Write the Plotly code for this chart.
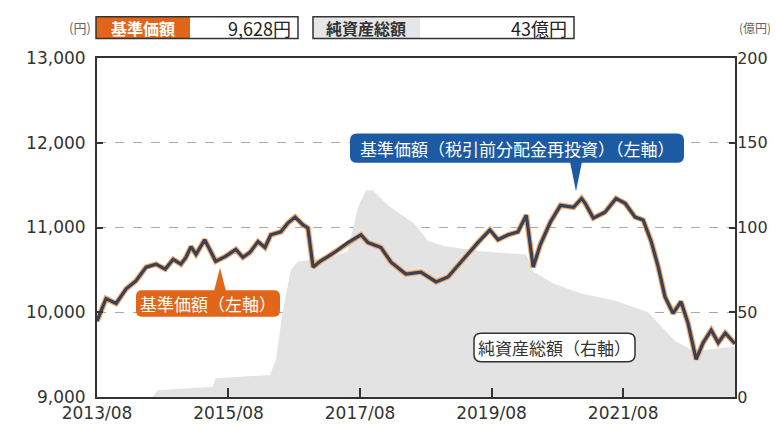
import plotly.graph_objects as go

# ---- data ----
nav_dates = [
    "2013-08-01", "2013-09-20", "2013-11-15", "2014-01-10", "2014-03-05", "2014-05-01",
    "2014-06-25", "2014-08-15", "2014-09-28", "2014-11-10", "2014-12-08", "2015-01-05",
    "2015-02-02", "2015-03-22", "2015-04-19", "2015-05-22", "2015-07-16", "2015-09-11",
    "2015-10-20", "2015-11-28", "2016-01-12", "2016-02-20", "2016-03-23", "2016-05-18",
    "2016-06-26", "2016-08-05", "2016-09-18", "2016-10-15", "2016-11-13", "2016-12-22",
    "2017-02-05", "2017-03-19", "2017-05-25", "2017-08-06", "2017-09-14", "2017-11-25",
    "2018-01-20", "2018-04-12", "2018-07-05", "2018-09-27", "2018-12-02", "2019-02-13",
    "2019-05-17", "2019-07-23", "2019-09-06", "2019-11-01", "2019-12-26", "2020-02-10",
    "2020-03-19", "2020-04-28", "2020-06-23", "2020-08-18", "2020-10-29", "2020-12-13",
    "2021-01-02", "2021-02-16", "2021-04-22", "2021-06-22", "2021-08-12", "2021-10-06",
    "2021-11-20", "2022-01-04", "2022-02-12", "2022-03-21", "2022-05-05", "2022-06-18",
    "2022-07-27", "2022-09-10", "2022-10-19", "2022-12-03", "2023-01-11", "2023-02-19",
    "2023-04-14",
]
nav_values = [
    9895, 10161, 10103, 10277, 10370, 10532,
    10567, 10509, 10625, 10567, 10648, 10775,
    10683, 10856, 10741, 10601, 10659, 10741,
    10648, 10706, 10833, 10764, 10914, 10949,
    11053, 11123, 11030, 10995, 10532, 10601,
    10659, 10717, 10822, 10914, 10822, 10764,
    10590, 10451, 10474, 10358, 10416, 10601,
    10822, 10972, 10856, 10914, 10949, 11146,
    10532, 10799, 11065, 11262, 11239, 11343,
    11285, 11111, 11181, 11343, 11285, 11123,
    11088, 10833, 10532, 10184, 9987, 10126,
    9872, 9443, 9640, 9790, 9640, 9756,
    9628,
]

aum_dates = [
    "2014-06-05", "2014-07-04", "2015-05-05", "2015-05-22", "2016-03-18", "2016-04-20",
    "2016-05-28", "2016-07-12", "2016-08-20", "2017-02-05", "2017-05-25", "2017-07-20",
    "2017-09-03", "2017-10-12", "2018-01-04", "2018-06-01", "2018-08-13", "2018-11-15",
    "2019-06-03", "2019-10-15", "2020-02-10", "2020-03-19", "2020-07-10", "2020-12-10",
    "2021-06-15", "2021-12-18", "2022-02-28", "2022-05-15", "2022-09-03", "2023-04-14",
]
aum_values = [
    0, 4, 6, 11, 13, 22,
    50, 75, 80, 82, 86, 112,
    122, 122, 113, 102, 92, 89,
    86, 85, 84, 74, 67, 61,
    57, 50, 42, 33, 27, 30,
]

x_tick_vals = ["2013-08-01", "2015-08-01", "2017-08-01", "2019-08-01", "2021-08-01"]
x_tick_text = ["2013/08", "2015/08", "2017/08", "2019/08", "2021/08"]
left_ticks = [9000, 10000, 11000, 12000, 13000]
right_ticks = [0, 50, 100, 150, 200]

latest_nav = "9,628円"
latest_aum = "43億円"

# ---- layout geometry (pixels) ----
W, H = 778, 427
L, R, T, B = 89, 727, 50, 396
JP = "Noto Sans CJK JP"


def px(x):
    return (x - L) / (R - L)


def py(y):
    return (B - y) / (B - T)


def rrect(x0, y0, x1, y1, r):
    def P(x, y):
        return f"{px(x):.5f},{py(y):.5f}"
    return (f"M {P(x0 + r, y0)} L {P(x1 - r, y0)} Q {P(x1, y0)} {P(x1, y0 + r)} "
            f"L {P(x1, y1 - r)} Q {P(x1, y1)} {P(x1 - r, y1)} "
            f"L {P(x0 + r, y1)} Q {P(x0, y1)} {P(x0, y1 - r)} "
            f"L {P(x0, y0 + r)} Q {P(x0, y0)} {P(x0 + r, y0)} Z")


def tri(xa, ya, xb, yb, xc, yc):
    return (f"M {px(xa):.5f},{py(ya):.5f} L {px(xb):.5f},{py(yb):.5f} "
            f"L {px(xc):.5f},{py(yc):.5f} Z")


fig = go.Figure()

# net assets on the primary axis (drawn underneath), shown on the right
fig.add_trace(go.Scatter(
    x=aum_dates, y=aum_values, yaxis="y", mode="lines",
    line=dict(color="rgba(0,0,0,0)", width=0),
    fill="tozeroy", fillcolor="#e3e3e3", hoverinfo="skip", showlegend=False,
))
# NAV on the overlaying axis (drawn on top), shown on the left
fig.add_trace(go.Scatter(
    x=nav_dates, y=nav_values, yaxis="y2", mode="lines",
    line=dict(color="#f2a563", width=5.5), showlegend=False,
))
fig.add_trace(go.Scatter(
    x=nav_dates, y=nav_values, yaxis="y2", mode="lines",
    line=dict(color="#36425a", width=3.2), showlegend=False,
))

shapes = []
annotations = []

ORANGE = "#e2661a"
BLUE = "#1c5aa3"
DARK = "#333333"

# top info boxes
shapes.append(dict(type="rect", xref="paper", yref="paper",
                   x0=px(88), x1=px(182), y0=py(30), y1=py(8),
                   fillcolor=ORANGE, line=dict(width=0), layer="above"))
shapes.append(dict(type="rect", xref="paper", yref="paper",
                   x0=px(88), x1=px(290), y0=py(30), y1=py(8),
                   fillcolor="rgba(0,0,0,0)", line=dict(color=DARK, width=1.5), layer="above"))
shapes.append(dict(type="rect", xref="paper", yref="paper",
                   x0=px(305), x1=px(412), y0=py(30), y1=py(8),
                   fillcolor="#e6e6e6", line=dict(width=0), layer="above"))
shapes.append(dict(type="rect", xref="paper", yref="paper",
                   x0=px(305), x1=px(566), y0=py(30), y1=py(8),
                   fillcolor="rgba(0,0,0,0)", line=dict(color=DARK, width=1.5), layer="above"))

annotations += [
    dict(text="(円)", x=px(85), y=py(19), xref="paper", yref="paper", xanchor="right",
         yanchor="middle", showarrow=False, font=dict(family=JP, size=13, color="#666")),
    dict(text="(億円)", x=px(765), y=py(19), xref="paper", yref="paper", xanchor="right",
         yanchor="middle", showarrow=False, font=dict(family=JP, size=12, color="#666")),
    dict(text="<b>基準価額</b>", x=px(135), y=py(19), xref="paper", yref="paper", xanchor="center",
         yanchor="middle", showarrow=False, font=dict(family=JP, size=16, color="white")),
    dict(text=latest_nav, x=px(285), y=py(19), xref="paper", yref="paper", xanchor="right",
         yanchor="middle", showarrow=False, font=dict(family=JP, size=18, color="#222")),
    dict(text="<b>純資産総額</b>", x=px(358), y=py(19), xref="paper", yref="paper", xanchor="center",
         yanchor="middle", showarrow=False, font=dict(family=JP, size=16, color="#333")),
    dict(text=latest_aum, x=px(561), y=py(19), xref="paper", yref="paper", xanchor="right",
         yanchor="middle", showarrow=False, font=dict(family=JP, size=18, color="#222")),
]

# blue callout
shapes.append(dict(type="path", xref="paper", yref="paper", path=rrect(342, 127, 676, 157, 7),
                   fillcolor=BLUE, line=dict(width=0), layer="above"))
shapes.append(dict(type="path", xref="paper", yref="paper", path=tri(562, 156, 574, 156, 568, 186),
                   fillcolor=BLUE, line=dict(width=0), layer="above"))
annotations.append(dict(text="基準価額（税引前分配金再投資）（左軸）", x=px(509), y=py(142),
                        xref="paper", yref="paper", showarrow=False, xanchor="center", yanchor="middle",
                        font=dict(family=JP, size=17, color="white")))

# orange callout
shapes.append(dict(type="path", xref="paper", yref="paper", path=rrect(128, 287, 272, 314, 6),
                   fillcolor=ORANGE, line=dict(width=0), layer="above"))
shapes.append(dict(type="path", xref="paper", yref="paper", path=tri(206, 288, 218, 288, 212, 264),
                   fillcolor=ORANGE, line=dict(width=0), layer="above"))
annotations.append(dict(text="基準価額（左軸）", x=px(200), y=py(300.5),
                        xref="paper", yref="paper", showarrow=False, xanchor="center", yanchor="middle",
                        font=dict(family=JP, size=17, color="white")))

# aum label
shapes.append(dict(type="path", xref="paper", yref="paper", path=rrect(466, 331, 627, 360, 7),
                   fillcolor="white", line=dict(color=DARK, width=1.5), layer="above"))
annotations.append(dict(text="純資産総額（右軸）", x=px(546.5), y=py(345.5),
                        xref="paper", yref="paper", showarrow=False, xanchor="center", yanchor="middle",
                        font=dict(family=JP, size=17, color="#333")))

tickfont = dict(family="DejaVu Sans", size=17, color="#333")
rtickfont = dict(family="DejaVu Sans", size=16, color="#333")

fig.update_layout(
    width=W, height=H,
    margin=dict(l=L, r=W - R, t=T, b=H - B),
    paper_bgcolor="white", plot_bgcolor="white",
    showlegend=False,
    shapes=shapes, annotations=annotations,
    xaxis=dict(
        type="date", range=["2013-08-01", "2023-04-14"],
        tickvals=x_tick_vals, ticktext=x_tick_text,
        ticks="inside", ticklen=9, tickwidth=1.5, tickcolor=DARK,
        showline=True, linecolor=DARK, linewidth=2, mirror=True,
        showgrid=False, zeroline=False, tickfont=tickfont,
    ),
    yaxis=dict(
        range=[0, 200], tickvals=right_ticks, side="right",
        ticks="inside", ticklen=6, tickwidth=1.5, tickcolor=DARK,
        showline=True, linecolor=DARK, linewidth=2,
        showgrid=False, zeroline=False, tickfont=rtickfont,
        ticklabelstandoff=-3,
    ),
    yaxis2=dict(
        range=[9000, 13000], tickvals=left_ticks, tickformat=",",
        overlaying="y", side="left",
        ticks="inside", ticklen=6, tickwidth=1.5, tickcolor=DARK,
        showline=True, linecolor=DARK, linewidth=2,
        showgrid=True, gridcolor="#aaaaaa", griddash="dash", gridwidth=1,
        zeroline=False, tickfont=tickfont, ticklabelstandoff=6,
    ),
)

fig.write_html("out.html")
